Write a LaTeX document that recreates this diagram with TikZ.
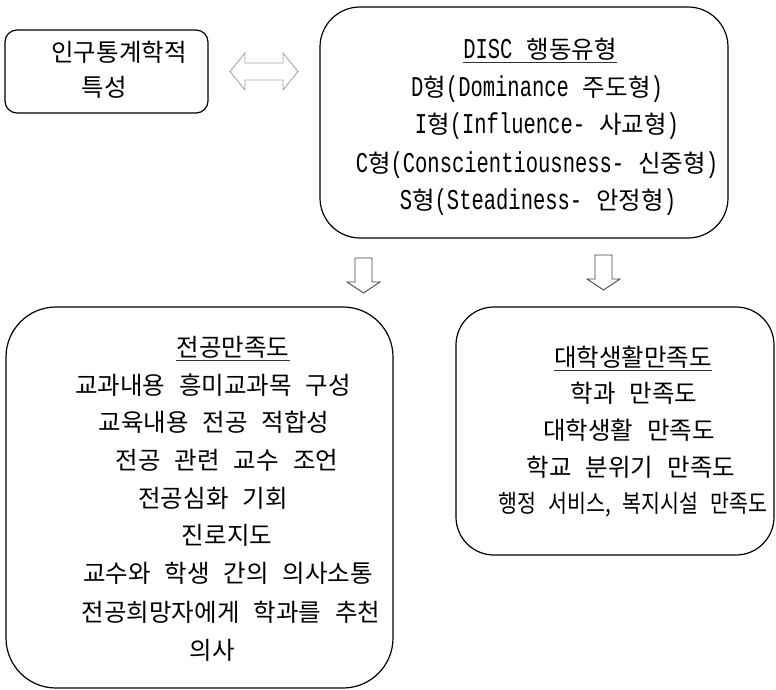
\documentclass[tikz,border=0pt]{standalone}
\usepackage{fontspec}
\usepackage{graphicx}
\setmainfont{Noto Sans CJK KR}
\newfontfamily\monofam{Liberation Mono}
\newcommand{\lat}[1]{\scalebox{1}[1.4]{\monofam\fontsize{20.5}{30}\selectfont #1}}
\tikzset{
  box/.style={draw=black, line width=1.2pt, fill=none, inner sep=0pt},
  ln/.style={anchor=base, inner sep=0pt, font={\fontsize{24.5}{36}\selectfont\spaceskip=14pt\relax}},
  uline/.style={line width=1pt, gray!40!black},
  blockarrow/.style={draw=gray!55!black, line width=0.9pt, fill=white, line join=miter},
}
\newcommand{\txtline}[4]{\node[ln] (#1) at (#2,#3+9) {#4};}
\begin{document}
\begin{tikzpicture}[x=1pt,y=-1pt]
\useasboundingbox (0,0) rectangle (776,690);

% boxes
\node[box, rounded corners=12pt, minimum width=203pt, minimum height=83pt] (demo) at (106.5,71.5) {};
\node[box, rounded corners=40pt, minimum width=408pt, minimum height=231pt] (disc) at (524,122.5) {};
\node[box, rounded corners=50pt, minimum width=387pt, minimum height=381pt] (major) at (199.5,497.5) {};
\node[box, rounded corners=38pt, minimum width=318pt, minimum height=248pt] (univ) at (615,431) {};

% box 1 text
\txtline{d1}{119}{53}{인구통계학적}
\txtline{d2}{104}{88}{특성}

% box 2 text
\txtline{c0}{540}{50}{\lat{DISC} 행동유형}
\draw[uline] ([yshift=-4pt]c0.base west) -- ([yshift=-4pt]c0.base east);
\txtline{c1}{537}{88}{\lat{D}형\lat{(Dominance} 주도형\lat{)}}
\txtline{c2}{547}{125}{\lat{I}형\lat{(Influence-} 사교형\lat{)}}
\txtline{c3}{537}{163}{\lat{C}형\lat{(Conscientiousness-} 신중형\lat{)}}
\txtline{c4}{538}{200}{\lat{S}형\lat{(Steadiness-} 안정형\lat{)}}

% box 3 text
\txtline{m0}{233}{347}{전공만족도~}
\draw[uline] ([yshift=-4pt]m0.base west) -- ([yshift=-4pt]m0.base east);
\txtline{m1}{213}{385}{교과내용 흥미교과목 구성}
\txtline{m2}{214}{422}{교육내용 전공 적합성}
\txtline{m3}{227}{460}{전공 관련 교수 조언}
\txtline{m4}{213}{498}{전공심화 기회}
\txtline{m5}{227}{535}{진로지도}
\txtline{m6}{228}{573}{교수와 학생 간의 의사소통}
\txtline{m7}{231}{612}{전공희망자에게 학과를 추천}
\txtline{m8}{212}{650}{의사}

% box 4 text
\txtline{u0}{633}{357}{대학생활만족도}
\draw[uline] ([yshift=-4pt]u0.base west) -- ([yshift=-4pt]u0.base east);
\txtline{u1}{634}{393}{학과 만족도}
\txtline{u2}{629}{430}{대학생활 만족도}
\txtline{u3}{631}{467}{학교 분위기 만족도}
\txtline{u4}{633}{503}{\scalebox{0.84}[1]{행정 서비스, 복지시설 만족도}}

% double arrow between box 1 and box 2
\coordinate (da) at (264,71.5);
\draw[blockarrow, draw=gray!70, shift={(da)}] (-34,0) -- (-19,-18.5) -- (-19,-8.5) -- (19,-8.5) -- (19,-18.5) -- (34,0) -- (19,18.5) -- (19,8.5) -- (-19,8.5) -- (-19,18.5) -- cycle;

% down arrows
\coordinate (dl) at (363.5,258);
\coordinate (dr) at (603.5,255);
\foreach \c in {dl,dr}{
  \draw[blockarrow, shift={(\c)}] (-8.5,0) -- (8.5,0) -- (8.5,24) -- (16.5,24) -- (0,35) -- (-16.5,24) -- (-8.5,24) -- cycle;
}
\end{tikzpicture}
\end{document}
